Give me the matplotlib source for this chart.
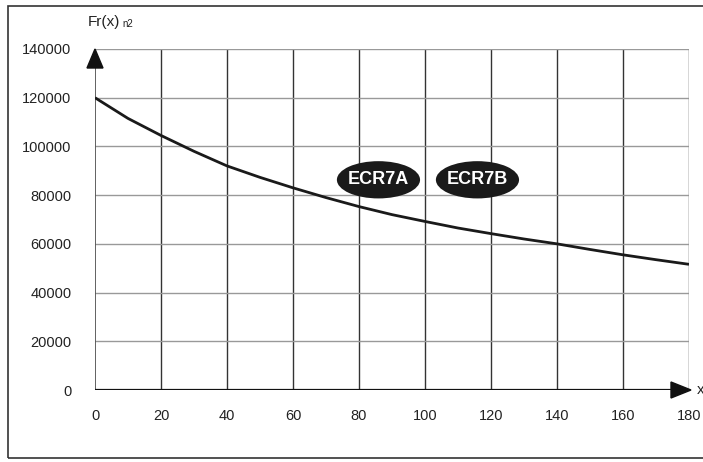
import matplotlib
matplotlib.use("Agg")
import matplotlib.pyplot as plt
from matplotlib.patches import Ellipse, Rectangle, Polygon

plt.rcParams['font.family'] = ['Liberation Sans', 'DejaVu Sans']

x_vals = [0, 10, 20, 30, 40, 50, 60, 70, 80, 90, 100, 110, 120, 130, 140, 150, 160, 170, 180]
fr_vals = [120000, 111500, 104500, 98000, 92000, 87300, 83000, 79000, 75300, 72000,
           69200, 66500, 64200, 62000, 60000, 57700, 55500, 53500, 51600]
x_ticks = [0, 20, 40, 60, 80, 100, 120, 140, 160, 180]
y_ticks = [0, 20000, 40000, 60000, 80000, 100000, 120000, 140000]
labels = ["ECR7A", "ECR7B"]
label_x = [85.9, 115.9]
label_y = 86300

W, H = 703, 462
fig = plt.figure(figsize=(W / 100, H / 100), dpi=100)
ax = fig.add_axes([95 / W, 1 - 390 / H, (689 - 95) / W, (390 - 49) / H])

# outer frame
fig.patches.append(Rectangle((8 / W, (H - 458) / H), 1.2, (458 - 6) / H,
                             transform=fig.transFigure, fill=False,
                             edgecolor='#333333', lw=1.2))

ax.set_xlim(0, 180)
ax.set_ylim(0, 140000)

for xv in x_ticks[1:]:
    ax.axvline(xv, color='#333333', lw=1.0, zorder=1)
for yv in y_ticks[1:]:
    ax.axhline(yv, color='#999999', lw=1.0, zorder=1)

ax.plot(x_vals, fr_vals, color='#1a1a1a', lw=2.0, zorder=3, solid_capstyle='butt')

for s in ax.spines.values():
    s.set_visible(False)
ax.axvline(0, color='#555555', lw=1.3, zorder=2)
ax.axhline(0, color='#111111', lw=1.6, zorder=2, xmax=0.97)

ax.set_xticks(x_ticks)
ax.set_yticks(y_ticks)
ax.set_xticklabels([str(v) for v in x_ticks])
ax.set_yticklabels([str(v) for v in y_ticks])
ax.tick_params(length=0, labelsize=10.5, colors='#222222')
ax.tick_params(axis='x', pad=14)
ax.tick_params(axis='y', pad=17)

# arrows (pixel-based via figure coords)
def fx(p):
    return p / W
def fy(p):
    return 1 - p / H
fig.patches.append(Polygon([(fx(671), fy(382)), (fx(671), fy(398)), (fx(691), fy(390))],
                           closed=True, transform=fig.transFigure, color='#111111'))
fig.patches.append(Polygon([(fx(87), fy(68)), (fx(103), fy(68)), (fx(95), fy(49))],
                           closed=True, transform=fig.transFigure, color='#111111'))

fig.text(fx(697), fy(390), "x", fontsize=11, va='center', ha='left', color='#222222')
fig.text(fx(88), fy(22), "Fr(x)", fontsize=11, va='center', ha='left', color='#222222')
fig.text(fx(122), fy(24), "n2", fontsize=7, va='center', ha='left', color='#222222')

for lx, lb in zip(label_x, labels):
    ax.add_patch(Ellipse((lx, label_y), 25.2, 15300, facecolor='#1a1a1a',
                         edgecolor='none', zorder=4))
    ax.text(lx, label_y, lb, color='white', fontsize=13, fontweight='bold',
            ha='center', va='center', zorder=5)

fig.savefig("out.png", dpi=100)
